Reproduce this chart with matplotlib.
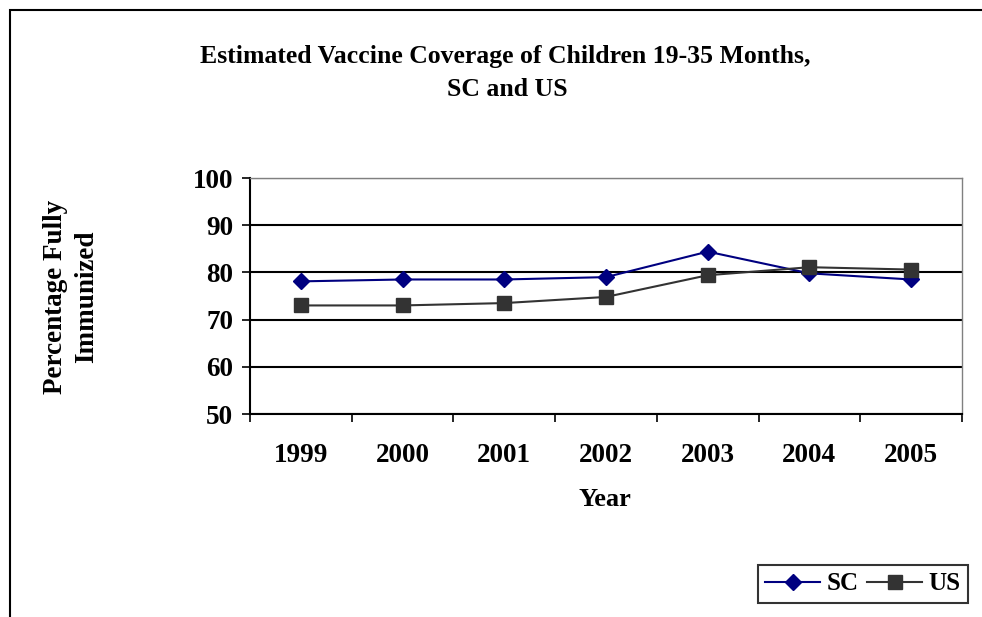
import matplotlib.pyplot as plt
from matplotlib.patches import Rectangle

years = ['1999', '2000', '2001', '2002', '2003', '2004', '2005']
sc_coverage = [78.1, 78.5, 78.5, 79.0, 84.4, 79.8, 78.5]
us_coverage = [73.0, 73.0, 73.5, 74.8, 79.4, 81.1, 80.6]
y_ticks = [50, 60, 70, 80, 90, 100]

plt.rcParams['font.family'] = ['Liberation Serif', 'DejaVu Serif']
plt.rcParams['font.weight'] = 'bold'

fig = plt.figure(figsize=(9.82, 6.17), dpi=100)
ax = fig.add_axes([250 / 982, 1 - 414 / 617, 712 / 982, 236 / 617])

# outer chart border (left and top edges only fall inside the image)
fig.patches.append(Rectangle((10 / 982, -0.1), 1.2, 1 - 10 / 617 + 0.1,
                             transform=fig.transFigure, fill=False,
                             edgecolor='black', linewidth=1.5))

x = list(range(len(years)))
ax.plot(x, sc_coverage, color='#000080', linewidth=1.5, marker='D',
        markersize=8, label='SC')
ax.plot(x, us_coverage, color='#333333', linewidth=1.5, marker='s',
        markersize=10, label='US')

ax.set_xlim(-0.5, len(years) - 0.5)
ax.set_ylim(50, 100)
ax.set_yticks(y_ticks)
ax.yaxis.grid(True, color='black', linewidth=1.5)
ax.set_axisbelow(True)

ax.set_xticks([i - 0.5 for i in range(len(years) + 1)])
ax.set_xticklabels([])
ax.set_xticks(x, minor=True)
ax.set_xticklabels(years, minor=True, fontsize=19.5, fontweight='bold')
ax.tick_params(axis='x', which='minor', length=0, pad=21)
ax.tick_params(axis='x', which='major', length=6, width=1.2, direction='out')
ax.tick_params(axis='y', length=6, width=1.2, direction='out', labelsize=19.5, pad=6)

for side in ['top', 'right']:
    ax.spines[side].set_color('#808080')
    ax.spines[side].set_linewidth(1)
for side in ['left', 'bottom']:
    ax.spines[side].set_linewidth(1.5)

fig.text(505 / 982, 1 - 57 / 617, 'Estimated Vaccine Coverage of Children 19-35 Months,',
         ha='center', va='center', fontsize=18.5, fontweight='bold')
fig.text(507 / 982, 1 - 90 / 617, 'SC and US', ha='center', va='center',
         fontsize=18.5, fontweight='bold')
fig.text(605 / 982, 1 - 499 / 617, 'Year', ha='center', va='center',
         fontsize=19, fontweight='bold')
fig.text(71 / 982, 1 - 297 / 617, 'Percentage Fully\nImmunized', ha='center',
         va='center', rotation=90, fontsize=19.5, fontweight='bold', linespacing=1.3)

leg = fig.legend(loc='center', bbox_to_anchor=(863 / 982, 1 - 584 / 617), ncol=2,
                 frameon=True, fancybox=False, edgecolor='black',
                 prop={'weight': 'bold', 'size': 18}, handlelength=2.2,
                 columnspacing=0.35, handletextpad=0.25, borderpad=0.3,
                 borderaxespad=0)
leg.get_frame().set_linewidth(1.5)

fig.savefig('out.png', dpi=100)
